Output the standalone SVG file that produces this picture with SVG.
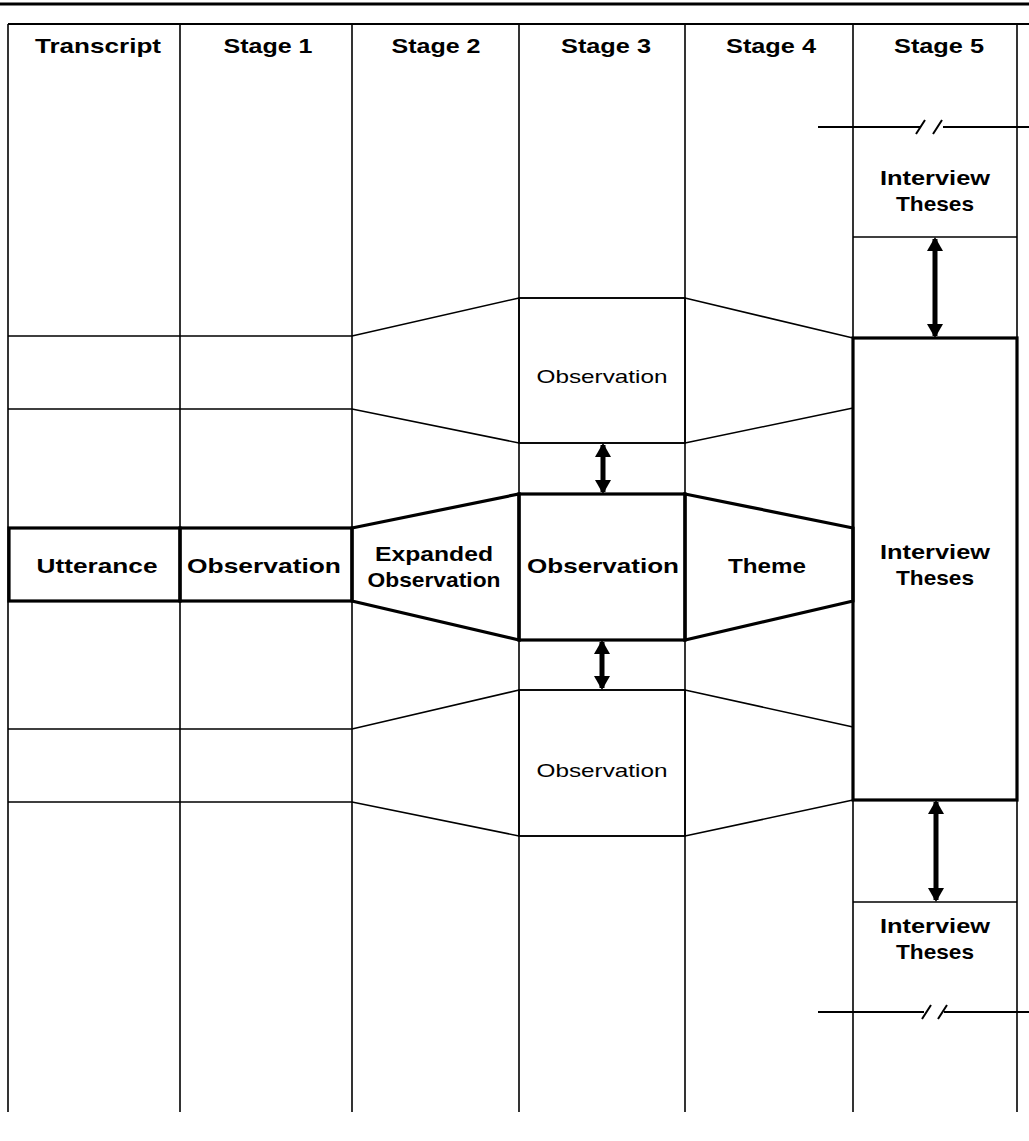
<svg xmlns="http://www.w3.org/2000/svg" width="1029" height="1141" viewBox="0 0 1029 1141">
<defs>
<style>
.col{stroke:#000;stroke-width:1.6;fill:none}
.thin{stroke:#000;stroke-width:1.6;fill:none}
.bold{stroke:#000;stroke-width:3.2;fill:none;stroke-linejoin:miter}
.hdr{font-family:"Liberation Sans",Arial,sans-serif;font-weight:bold;font-size:20.5px;fill:#000}
.lb{font-family:"Liberation Sans",Arial,sans-serif;font-weight:bold;font-size:20.5px;fill:#000}
.ln{font-family:"Liberation Sans",Arial,sans-serif;font-size:19px;fill:#000}
.arr{stroke:#000;stroke-width:5;fill:none}
</style>
<marker id="ah" viewBox="0 0 14 16" refX="12" refY="8" markerWidth="14" markerHeight="16" markerUnits="userSpaceOnUse" orient="auto-start-reverse">
<path d="M0,0 L14,8 L0,16 Z" fill="#000"/>
</marker>
</defs>
<rect width="1029" height="1141" fill="#fff"/>

<g id="frame">
<line x1="0" y1="4" x2="1029" y2="4" stroke="#000" stroke-width="3"/>
<line x1="8" y1="24" x2="1029" y2="24" stroke="#000" stroke-width="2"/>
<line class="col" x1="8" y1="24" x2="8" y2="1112"/>
<line class="col" x1="180" y1="24" x2="180" y2="1112"/>
<line class="col" x1="352" y1="24" x2="352" y2="1112"/>
<line class="col" x1="519" y1="24" x2="519" y2="1112"/>
<line class="col" x1="685" y1="24" x2="685" y2="1112"/>
<line class="col" x1="853" y1="24" x2="853" y2="1112"/>
<line class="col" x1="1017" y1="24" x2="1017" y2="1112"/>
</g>

<g id="headers">
<text class="hdr" x="98" y="53" text-anchor="middle" textLength="126" lengthAdjust="spacingAndGlyphs">Transcript</text>
<text class="hdr" x="268" y="53" text-anchor="middle" textLength="89" lengthAdjust="spacingAndGlyphs">Stage 1</text>
<text class="hdr" x="436" y="53" text-anchor="middle" textLength="89" lengthAdjust="spacingAndGlyphs">Stage 2</text>
<text class="hdr" x="606" y="53" text-anchor="middle" textLength="90" lengthAdjust="spacingAndGlyphs">Stage 3</text>
<text class="hdr" x="771" y="53" text-anchor="middle" textLength="90" lengthAdjust="spacingAndGlyphs">Stage 4</text>
<text class="hdr" x="939" y="53" text-anchor="middle" textLength="90" lengthAdjust="spacingAndGlyphs">Stage 5</text>
</g>

<g id="band-top">
<polyline class="thin" points="8,336 352,336 519,298 685,298 853,338"/>
<polyline class="thin" points="8,409 352,409 519,443 685,443 853,408"/>
</g>
<g id="obs-top">
<rect class="thin" x="519" y="298" width="166" height="145"/>
<text class="ln" x="602" y="383" text-anchor="middle" textLength="131" lengthAdjust="spacingAndGlyphs">Observation</text>
</g>

<g id="band-bottom">
<polyline class="thin" points="8,729 352,729 519,690 685,690 853,727"/>
<polyline class="thin" points="8,802 352,802 519,836 685,836 853,800"/>
</g>
<g id="obs-bottom">
<rect class="thin" x="519" y="690" width="166" height="146"/>
<text class="ln" x="602" y="777" text-anchor="middle" textLength="131" lengthAdjust="spacingAndGlyphs">Observation</text>
</g>

<g id="utterance">
<rect class="bold" x="9" y="528" width="171" height="73"/>
<text class="lb" x="97" y="573" text-anchor="middle" textLength="121" lengthAdjust="spacingAndGlyphs">Utterance</text>
</g>
<g id="observation-1">
<rect class="bold" x="180" y="528" width="172" height="73"/>
<text class="lb" x="264" y="573" text-anchor="middle" textLength="154" lengthAdjust="spacingAndGlyphs">Observation</text>
</g>
<g id="expanded-observation">
<polygon class="bold" points="352,528 519,494 519,640 352,601"/>
<text class="lb" x="434" y="561" text-anchor="middle" textLength="118" lengthAdjust="spacingAndGlyphs">Expanded</text>
<text class="lb" x="434" y="587" text-anchor="middle" textLength="133" lengthAdjust="spacingAndGlyphs">Observation</text>
</g>
<g id="observation-3">
<rect class="bold" x="519" y="494" width="166" height="146"/>
<text class="lb" x="603" y="573" text-anchor="middle" textLength="152" lengthAdjust="spacingAndGlyphs">Observation</text>
</g>
<g id="theme">
<polygon class="bold" points="685,494 853,528 853,601 685,640"/>
<text class="lb" x="767" y="573" text-anchor="middle" textLength="78" lengthAdjust="spacingAndGlyphs">Theme</text>
</g>
<g id="theses-main">
<rect class="bold" x="853" y="338" width="164" height="462"/>
<text class="lb" x="935" y="559" text-anchor="middle" textLength="110" lengthAdjust="spacingAndGlyphs">Interview</text>
<text class="lb" x="935" y="585" text-anchor="middle" textLength="78" lengthAdjust="spacingAndGlyphs">Theses</text>
</g>
<g id="theses-top">
<line class="thin" x1="853" y1="237" x2="1017" y2="237"/>
<path d="M818,127 H921 M943,127 H1029" stroke="#000" stroke-width="2" fill="none"/>
<path d="M916,134 L925,120 M933,134 L942,120" stroke="#000" stroke-width="2" fill="none"/>
<text class="lb" x="935" y="185" text-anchor="middle" textLength="110" lengthAdjust="spacingAndGlyphs">Interview</text>
<text class="lb" x="935" y="211" text-anchor="middle" textLength="78" lengthAdjust="spacingAndGlyphs">Theses</text>
</g>
<g id="theses-bottom">
<line class="thin" x1="853" y1="902" x2="1017" y2="902"/>
<path d="M818,1012 H924 M944,1012 H1029" stroke="#000" stroke-width="2" fill="none"/>
<path d="M922,1019 L931,1005 M938,1019 L947,1005" stroke="#000" stroke-width="2" fill="none"/>
<text class="lb" x="935" y="933" text-anchor="middle" textLength="110" lengthAdjust="spacingAndGlyphs">Interview</text>
<text class="lb" x="935" y="959" text-anchor="middle" textLength="78" lengthAdjust="spacingAndGlyphs">Theses</text>
</g>

<g id="connectors">
<line class="arr" x1="603" y1="445" x2="603" y2="492" marker-start="url(#ah)" marker-end="url(#ah)"/>
<line class="arr" x1="602" y1="642" x2="602" y2="688" marker-start="url(#ah)" marker-end="url(#ah)"/>
<line class="arr" x1="935" y1="239" x2="935" y2="336" marker-start="url(#ah)" marker-end="url(#ah)"/>
<line class="arr" x1="936" y1="802" x2="936" y2="900" marker-start="url(#ah)" marker-end="url(#ah)"/>
</g>
</svg>
